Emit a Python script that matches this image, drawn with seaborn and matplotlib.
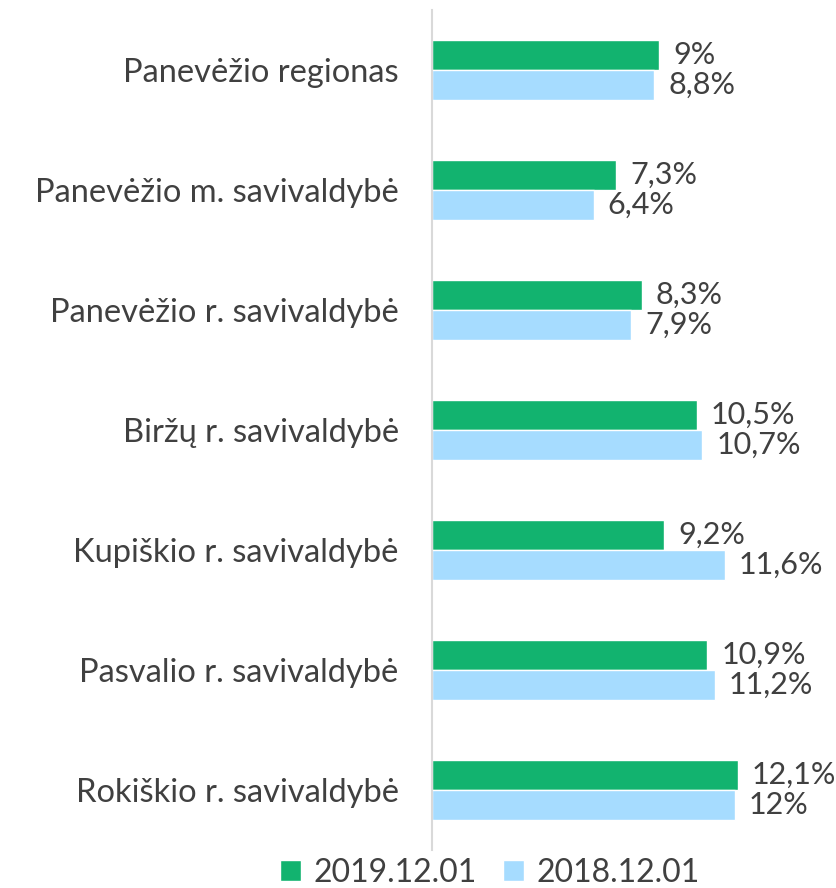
import matplotlib.pyplot as plt
import pandas as pd
import seaborn as sns

sns.set_style("white")
plt.rcParams['font.family'] = ['Lato', 'DejaVu Sans']

# data
regions = ["Panevėžio regionas", "Panevėžio m. savivaldybė",
           "Panevėžio r. savivaldybė", "Biržų r. savivaldybė",
           "Kupiškio r. savivaldybė", "Pasvalio r. savivaldybė",
           "Rokiškio r. savivaldybė"]
vals_2019 = [9.0, 7.3, 8.3, 10.5, 9.2, 10.9, 12.1]
vals_2018 = [8.8, 6.4, 7.9, 10.7, 11.6, 11.2, 12.0]
series = ["2019.12.01", "2018.12.01"]
colors = ["#12B36F", "#A6DCFF"]
text_color = "#404040"

df = pd.DataFrame({
    "region": regions * 2,
    "value": vals_2019 + vals_2018,
    "date": [series[0]] * len(regions) + [series[1]] * len(regions),
})

fig = plt.figure(figsize=(8.36, 8.88), dpi=100)
ax = fig.add_axes([432 / 836, 1 - 850 / 888, 404 / 836, 840 / 888])

sns.barplot(data=df, y="region", x="value", hue="date", hue_order=series,
            palette=colors, orient="h", width=0.5, saturation=1,
            ax=ax, legend=True)

for cont in ax.containers:
    labels = [f"{b.get_width():g}".replace(".", ",") + "%" for b in cont]
    ax.bar_label(cont, labels=labels, padding=10, fontsize=22,
                 color=text_color)

ax.set_xlim(0, 16)
ax.set_xlabel("")
ax.set_ylabel("")
ax.set_xticks([])
ax.tick_params(axis="y", length=0, pad=24, labelsize=23.5, labelcolor=text_color)

for s in ["top", "right", "bottom"]:
    ax.spines[s].set_visible(False)
ax.spines["left"].set_color("#D9D9D9")
ax.spines["left"].set_linewidth(1.5)

handles, labs = ax.get_legend_handles_labels()
ax.get_legend().remove()
fig.legend(handles, labs, loc="center", bbox_to_anchor=(490 / 836, 1 - 873 / 888),
           ncol=2, frameon=False, fontsize=23, labelcolor=text_color,
           handlelength=0.65, handleheight=0.65, handletextpad=0.4,
           columnspacing=0.8, borderpad=0)

fig.savefig("out.png", dpi=100)
